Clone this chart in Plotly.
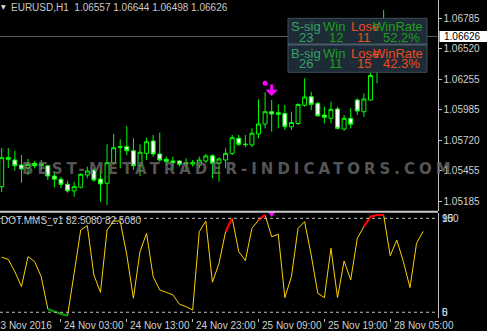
import plotly.graph_objects as go

# ---------------- data ----------------
symbol = "EURUSD"
timeframe = "H1"

open_ = [1.05316, 1.05571, 1.05549, 1.05505, 1.05479, 1.05520, 1.05514, 1.05499, 1.05409, 1.05381,
         1.05337, 1.05279, 1.05311, 1.05418, 1.05462, 1.05383, 1.05346, 1.05525, 1.05665, 1.05665,
         1.05630, 1.05499, 1.05607, 1.05715, 1.05601, 1.05555, 1.05540, 1.05540, 1.05525, 1.05514,
         1.05503, 1.05540, 1.05586, 1.05520, 1.05549, 1.05607, 1.05738, 1.05688, 1.05680, 1.05776,
         1.05863, 1.05970, 1.05961, 1.05954, 1.05839, 1.05867, 1.06026, 1.06101, 1.06043, 1.05941,
         1.05912, 1.05994, 1.05819, 1.05912, 1.06072, 1.05970, 1.06072, 1.06330, 1.06464, 1.06682,
         1.06590, 1.06640, 1.06580, 1.06510, 1.06557]
high = [1.05653, 1.05653, 1.05630, 1.05592, 1.05558, 1.05540, 1.05549, 1.05505, 1.05447, 1.05403,
        1.05368, 1.05360, 1.05433, 1.05490, 1.05476, 1.05462, 1.05686, 1.05776, 1.05729, 1.05845,
        1.05738, 1.05686, 1.05743, 1.05767, 1.05787, 1.05578, 1.05578, 1.05549, 1.05564, 1.05549,
        1.05578, 1.05601, 1.05599, 1.05572, 1.05651, 1.05767, 1.05767, 1.05767, 1.05825, 1.06078,
        1.06139, 1.06072, 1.06034, 1.06028, 1.05970, 1.06043, 1.06261, 1.06144, 1.06057, 1.06014,
        1.06057, 1.06014, 1.05941, 1.06000, 1.06087, 1.06130, 1.06328, 1.06552, 1.06857, 1.06740,
        1.06660, 1.06700, 1.06610, 1.06600, 1.06644]
low = [1.05270, 1.05479, 1.05456, 1.05351, 1.05418, 1.05476, 1.05462, 1.05374, 1.05311, 1.05302,
       1.05264, 1.05229, 1.05302, 1.05389, 1.05360, 1.05185, 1.05156, 1.05505, 1.05476, 1.05592,
       1.05462, 1.05409, 1.05549, 1.05578, 1.05534, 1.05505, 1.05462, 1.05490, 1.05462, 1.05490,
       1.05476, 1.05520, 1.05389, 1.05360, 1.05476, 1.05592, 1.05671, 1.05660, 1.05660, 1.05738,
       1.05825, 1.05796, 1.05825, 1.05810, 1.05810, 1.05854, 1.06014, 1.05985, 1.05926, 1.05869,
       1.05869, 1.05816, 1.05804, 1.05825, 1.05941, 1.05926, 1.06066, 1.06218, 1.06403, 1.06560,
       1.06520, 1.06560, 1.06470, 1.06480, 1.06498]
close = [1.05569, 1.05555, 1.05499, 1.05470, 1.05510, 1.05499, 1.05499, 1.05409, 1.05381, 1.05337,
         1.05279, 1.05316, 1.05424, 1.05453, 1.05374, 1.05340, 1.05525, 1.05656, 1.05659, 1.05630,
         1.05499, 1.05616, 1.05708, 1.05601, 1.05549, 1.05537, 1.05525, 1.05511, 1.05514, 1.05527,
         1.05549, 1.05584, 1.05520, 1.05558, 1.05607, 1.05743, 1.05686, 1.05683, 1.05782, 1.05863,
         1.05970, 1.05950, 1.05947, 1.05839, 1.05876, 1.06033, 1.06098, 1.06034, 1.05934, 1.05921,
         1.05991, 1.05825, 1.05912, 1.05860, 1.05976, 1.06081, 1.06286, 1.06464, 1.06682, 1.06590,
         1.06640, 1.06580, 1.06510, 1.06557, 1.06626]

price_ticks = [1.06785, 1.06520, 1.06255, 1.05985, 1.05720, 1.05455, 1.05185]

first_time_label = "23 Nov 2016"
time_labels = ["24 Nov 03:00", "24 Nov 13:00", "24 Nov 23:00",
               "25 Nov 09:00", "25 Nov 19:00", "28 Nov 05:00"]
time_label_bars = [9, 19, 29, 39, 49, 59]

osc_name = "DOT.MMS_v1"
osc = [57.7, 55.7, 43.9, 29.6, 58.3, 53.5, 39.1, 8.2, 5.6, 3.4,
       1.8, 42.3, 83.8, 88.0, 40.7, 24.1, 83.8, 92.4, 92.4, 59.9,
       18.4, 63.1, 80.6, 39.1, 26.4, 24.1, 21.6, 12.7, 10.4, 7.2,
       82.2, 92.4, 33.7, 51.9, 82.2, 95.0, 63.1, 54.5, 85.4, 93.4,
       98.2, 77.4, 79.7, 19.0, 39.1, 85.4, 91.8, 59.9, 23.2, 19.0,
       66.3, 19.0, 54.1, 36.0, 75.8, 87.0, 96.6, 98.2, 98.2, 59.2,
       74.2, 53.5, 28.6, 71.1, 82.508]
osc_levels = [95, 5]
osc_max, osc_min = 100, 0
osc_red_segments = [(34, 35), (39, 40), (55, 58)]
osc_green_segments = [(7, 10)]

sell_arrow_bar = 41
signal_dot_bar = 40
signal_dot_price = 1.06218
osc_signal_bar = 41
osc_signal_value = 99.5

s_total, s_win, s_lose = 23, 12, 11
b_total, b_win, b_lose = 26, 11, 15

watermark = "BEST-METATRADER-INDICATORS.COM"

# ---------------- helpers ----------------
W, H = 487, 331
FONT = "Liberation Sans, Arial, sans-serif"
PLOT_R = 437.5          # right edge of plotting area (px)
BAR0, BAR_W = 1.7, 6.585  # px of first bar / px per bar


def px_x(px):
    return px / W


def px_y(py):
    return 1 - py / H


bars = list(range(len(close)))
fig = go.Figure()

fig.add_trace(go.Candlestick(
    x=bars, open=open_, high=high, low=low, close=close,
    increasing=dict(line=dict(color="#00ff00", width=1), fillcolor="#000000"),
    decreasing=dict(line=dict(color="#00ff00", width=1), fillcolor="#ffffff"),
    whiskerwidth=0, xaxis="x", yaxis="y", hoverinfo="skip"))

fig.add_trace(go.Scatter(
    x=[signal_dot_bar], y=[signal_dot_price], mode="markers",
    marker=dict(color="#ff00ff", size=5), xaxis="x", yaxis="y", hoverinfo="skip"))

fig.add_trace(go.Scatter(
    x=bars, y=osc, mode="lines", line=dict(color="#ffd200", width=1),
    xaxis="x2", yaxis="y2", hoverinfo="skip"))

for segs, col in ((osc_green_segments, "#009a00"), (osc_red_segments, "#ff0000")):
    xs, ys = [], []
    for a, b in segs:
        for i in range(a, b + 1):
            xs.append(i)
            ys.append(osc[i])
        xs.append(None)
        ys.append(None)
    fig.add_trace(go.Scatter(x=xs, y=ys, mode="lines", line=dict(color=col, width=2.2),
                             connectgaps=False, xaxis="x2", yaxis="y2", hoverinfo="skip",
                             cliponaxis=False))

fig.add_trace(go.Scatter(
    x=[osc_signal_bar], y=[osc_signal_value], mode="markers",
    marker=dict(symbol="triangle-down", color="#ff00ff", size=7),
    cliponaxis=False, xaxis="x2", yaxis="y2", hoverinfo="skip"))

x_range = [(0 - BAR0) / BAR_W, (PLOT_R - BAR0) / BAR_W]
p_top = 1.06944
p_per_px = 0.0000872
y_range = [p_top - p_per_px * 211, p_top]

axis_gray = "#c0c0c0"
text_gray = "#d0d0d0"

shapes = []
annotations = []

# bid line
shapes.append(dict(type="line", xref="paper", yref="y", x0=0, x1=px_x(PLOT_R),
                   y0=close[-1], y1=close[-1], line=dict(color="#5c5c5c", width=1), layer="below"))
# separator between windows
shapes.append(dict(type="line", xref="paper", yref="paper", x0=0, x1=px_x(PLOT_R + 0.5),
                   y0=px_y(211.8), y1=px_y(211.8), line=dict(color="#c8c8c8", width=2)))
# oscillator levels
for lv in osc_levels:
    shapes.append(dict(type="line", xref="paper", yref="y2", x0=0, x1=px_x(PLOT_R),
                       y0=lv, y1=lv, line=dict(color="#bdbdbd", width=1, dash="3px,3px")))
# bid price box
shapes.append(dict(type="rect", xref="paper", yref="y", ysizemode="pixel", yanchor=close[-1],
                   x0=px_x(439.5), x1=1.0, y0=-5.5, y1=5.5,
                   fillcolor="#ffffff", line=dict(width=0)))
annotations.append(dict(xref="paper", yref="y", x=px_x(443.5), y=close[-1], text=f"{close[-1]:.5f}",
                        showarrow=False, xanchor="left", yanchor="middle", borderpad=0, borderwidth=0,
                        font=dict(family=FONT, size=10, color="#000000")))

# statistics table
tbl_x0, tbl_x1, tbl_y0, tbl_y1 = 288, 427, 18.3, 72.3
shapes.append(dict(type="rect", xref="paper", yref="paper",
                   x0=px_x(tbl_x0), x1=px_x(tbl_x1), y0=px_y(tbl_y1), y1=px_y(tbl_y0),
                   fillcolor="#1d2b36", line=dict(color="#3e4e5a", width=1), layer="above"))
shapes.append(dict(type="line", xref="paper", yref="paper",
                   x0=px_x(tbl_x0), x1=px_x(tbl_x1), y0=px_y(44.5), y1=px_y(44.5),
                   line=dict(color="#4a5a66", width=2), layer="above"))

sig_col, win_col, lose_col = "#37a066", "#1e9e1e", "#ee4a1c"


def rate_text(w, t):
    return f"{100.0 * w / t:.1f}%"


def rate_col(w, t):
    return win_col if w / t >= 0.5 else lose_col


table_rows = [
    (27.0, 37.8, "S-sig", s_total, s_win, s_lose),
    (53.0, 63.8, "B-sig", b_total, b_win, b_lose),
]
head_x = [290, 322.3, 350, 372.3]
val_x = [305.8, 336, 363.5, 401]
for hy, vy, name, tot, w, l in table_rows:
    heads = [name, "Win", "Lose", "WinRate"]
    vals = [str(tot), str(w), str(l), rate_text(w, tot)]
    cols = [sig_col, win_col, lose_col, rate_col(w, tot)]
    for k in range(4):
        annotations.append(dict(xref="paper", yref="paper", x=px_x(head_x[k]), y=px_y(hy),
                                text=heads[k], showarrow=False, xanchor="left", yanchor="middle",
                                borderpad=0, font=dict(family=FONT, size=13, color=cols[k])))
        annotations.append(dict(xref="paper", yref="paper", x=px_x(val_x[k]), y=px_y(vy),
                                text=vals[k], showarrow=False, xanchor="center", yanchor="middle",
                                borderpad=0, font=dict(family=FONT, size=13, color=cols[k])))

# header
annotations.append(dict(xref="paper", yref="paper", x=px_x(10), y=px_y(7),
                        text=f"{symbol},{timeframe}\u00a0\u00a0{open_[-1]:.5f} {high[-1]:.5f} "
                             f"{low[-1]:.5f} {close[-1]:.5f}",
                        showarrow=False, xanchor="left", yanchor="middle", borderpad=0,
                        font=dict(family=FONT, size=10, color="#c8c8c8")))
annotations.append(dict(xref="paper", yref="paper", x=px_x(0), y=px_y(6.5), text="\u25bc",
                        showarrow=False, xanchor="left", yanchor="middle", borderpad=0,
                        font=dict(family="DejaVu Sans", size=6, color="#e0e0e0")))

# oscillator label
annotations.append(dict(xref="paper", yref="paper", x=px_x(0), y=px_y(220.3),
                        text=f"{osc_name} {osc[-1]:.4f} {osc[-1]:.4f}",
                        showarrow=False, xanchor="left", yanchor="middle", borderpad=0,
                        font=dict(family=FONT, size=10, color="#c8c8c8")))
# oscillator scale labels (max/level and min/level overlap, as in the terminal)
for txt, val in ((str(osc_max), osc_levels[0]), (str(osc_levels[0]), osc_levels[0]),
                 (str(osc_min), osc_levels[1]), (str(osc_levels[1]), osc_levels[1])):
    annotations.append(dict(xref="paper", yref="y2", x=px_x(440.5), y=val, text=txt,
                            showarrow=False, xanchor="left", yanchor="middle", borderpad=0,
                            font=dict(family=FONT, size=10, color="#cfd8e0")))

# time labels
for b, t in zip(time_label_bars, time_labels):
    annotations.append(dict(xref="x2", yref="paper", x=b, y=px_y(325.5), text=t, xshift=2.5,
                            showarrow=False, xanchor="left", yanchor="middle", borderpad=0,
                            font=dict(family=FONT, size=10, color=text_gray)))
# first label sits on a bar just left of the visible range -> place it in paper units
annotations.append(dict(xref="paper", yref="paper", x=px_x(BAR0 - BAR_W - 1.2), y=px_y(325.5),
                        text=first_time_label, showarrow=False, xanchor="left", yanchor="middle",
                        borderpad=0, font=dict(family=FONT, size=10, color=text_gray)))

# sell arrow
annotations.append(dict(xref="x", yref="y", x=sell_arrow_bar, y=high[sell_arrow_bar], text="",
                        showarrow=True, arrowhead=1, arrowsize=0.7, arrowwidth=3,
                        arrowcolor="#ff00ff", ax=0, ay=-17, standoff=4))

# watermark
annotations.append(dict(xref="paper", yref="paper", x=px_x(238), y=px_y(168.5),
                        text=f'<b><span style="letter-spacing:4px">{watermark}</span></b>',
                        showarrow=False, xanchor="center", yanchor="middle", borderpad=0,
                        font=dict(family="DejaVu Sans", size=15, color="rgba(110,110,110,0.78)")))

fig.update_layout(
    width=W, height=H, margin=dict(l=0, r=0, t=0, b=0),
    paper_bgcolor="#000000", plot_bgcolor="#000000", showlegend=False,
    boxgap=0.4, boxgroupgap=0,
    xaxis=dict(domain=[0, px_x(PLOT_R)], range=x_range, anchor="y", showticklabels=False,
               showgrid=False, zeroline=False, showline=False, ticks="",
               rangeslider=dict(visible=False), fixedrange=True),
    xaxis2=dict(domain=[0, px_x(PLOT_R)], range=x_range, anchor="y2", tickvals=time_label_bars,
                ticks="outside", ticklen=3, tickcolor=axis_gray, showticklabels=False,
                showgrid=False, zeroline=False, showline=False, fixedrange=True),
    yaxis=dict(domain=[px_y(211), 1], range=y_range, side="right", anchor="x",
               tickvals=price_ticks, ticktext=[f"{p:.5f}" for p in price_ticks],
               ticks="outside", ticklen=3, tickcolor=axis_gray, showline=True,
               linecolor=axis_gray, linewidth=1, showgrid=False, zeroline=False,
               tickfont=dict(family=FONT, size=10, color=text_gray), automargin=False,
               fixedrange=True),
    yaxis2=dict(domain=[px_y(317.5), px_y(213.1)], range=[osc_min, osc_max], side="right",
                anchor="x2", showticklabels=False, ticks="", showline=True, linecolor=axis_gray,
                linewidth=1, showgrid=False, zeroline=False, automargin=False, fixedrange=True),
    shapes=shapes, annotations=annotations,
)

fig.write_html("out.html", config={"displayModeBar": False})
